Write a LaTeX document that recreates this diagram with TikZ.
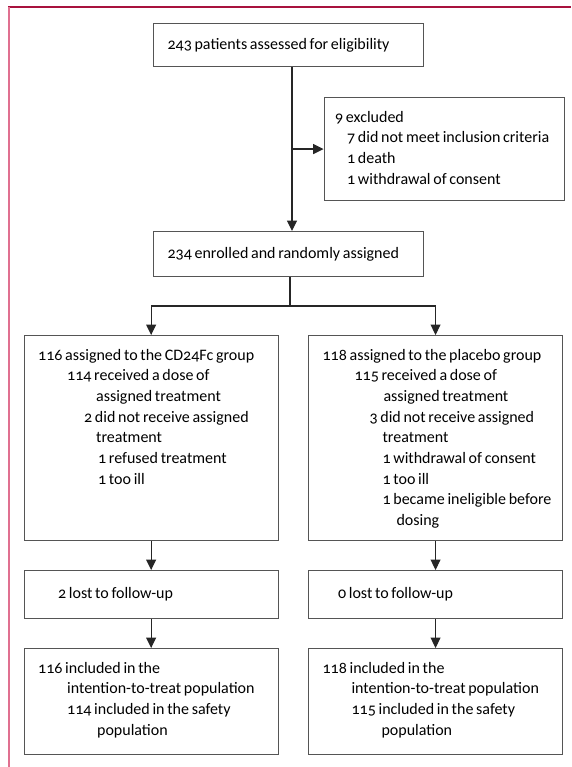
\documentclass[tikz,border=0pt]{standalone}
\usepackage{fontspec}
\setmainfont{Carlito}[Numbers=OldStyle, WordSpace=0.75]
\usetikzlibrary{arrows.meta}

\definecolor{framered}{HTML}{A8123E}
\definecolor{framepink}{HTML}{E07090}
\definecolor{boxgray}{HTML}{555555}

% text block of a box: width, height, lines
\newcommand{\topfill}[3]{\parbox[c][#2][t]{#1}{\vspace*{10pt}#3}}
\newcommand{\midfill}[3]{\parbox[c][#2][c]{#1}{#3}}
\newcommand{\entry}[2]{\hspace*{#1}\strut#2\par}

\begin{document}
\begin{tikzpicture}[x=1pt,y=-1pt]
        \tikzset{flowbox/.style={draw=boxgray, line width=1.1pt, anchor=north west,
            inner sep=0pt, font=\fontsize{16}{20.7}\selectfont},
          arr/.style={-{Triangle[length=10.5pt,width=10pt]}, line width=1.1pt, black!85}}

        \useasboundingbox (0,0) rectangle (571,767);

        \draw[framered, line width=1.6pt] (8,7) -- (571,7);
        \draw[framepink, line width=2pt] (9,7) -- (9,767);

        \node[flowbox] (assess) at (153,23) {\midfill{270pt}{43pt}{%
            \entry{14pt}{243 patients assessed for eligibility}}};
        \node[flowbox] (excl) at (323.6,97) {\topfill{240pt}{103pt}{%
            \entry{11pt}{9 excluded}
            \entry{23pt}{7 did not meet inclusion criteria}
            \entry{23pt}{1 death}
            \entry{23pt}{1 withdrawal of consent}}};
        \node[flowbox] (enrol) at (153,231) {\midfill{270pt}{45pt}{%
            \entry{14pt}{234 enrolled and randomly assigned}}};

        \node[flowbox] (cd24) at (23.6,335) {\topfill{254pt}{205pt}{%
            \entry{14pt}{116 assigned to the CD24Fc group}
            \entry{43pt}{114 received a dose of}
            \entry{72pt}{assigned treatment}
            \entry{60pt}{2 did not receive assigned}
            \entry{72pt}{treatment}
            \entry{74pt}{1 refused treatment}
            \entry{74pt}{1 too ill}}};
        \node[flowbox] (placebo) at (308,335) {\topfill{254pt}{205pt}{%
            \entry{14pt}{118 assigned to the placebo group}
            \entry{46pt}{115 received a dose of}
            \entry{75pt}{assigned treatment}
            \entry{61pt}{3 did not receive assigned}
            \entry{74pt}{treatment}
            \entry{74pt}{1 withdrawal of consent}
            \entry{74pt}{1 too ill}
            \entry{74pt}{1 became ineligible before}
            \entry{88pt}{dosing}}};

        \node[flowbox] (lostcd) at (23.6,570) {\midfill{254pt}{48pt}{%
            \entry{34pt}{2 lost to follow-up}}};
        \node[flowbox] (lostpl) at (308,570) {\midfill{254pt}{48pt}{%
            \entry{29.5pt}{0 lost to follow-up}}};

        \node[flowbox] (ittcd) at (23.6,648) {\topfill{254pt}{106pt}{%
            \entry{14pt}{116 included in the}
            \entry{43pt}{intention-to-treat population}
            \entry{43pt}{114 included in the safety}
            \entry{73pt}{population}}};
        \node[flowbox] (ittpl) at (308,648) {\topfill{254pt}{106pt}{%
            \entry{14pt}{118 included in the}
            \entry{43pt}{intention-to-treat population}
            \entry{43pt}{115 included in the safety}
            \entry{73pt}{population}}};

        \coordinate (stem) at (292,0);
        \coordinate (split) at (290,306);

        \draw[arr] (assess.south -| stem) -- (enrol.north -| stem);
        \draw[arr] (stem |- excl.west) -- (excl.west);
        \draw[line width=1.1pt, black!85] (enrol.south -| split) -- (split);
        \draw[arr] (split) -| (cd24.north);
        \draw[arr] (split) -| (placebo.north);
        \draw[arr] (cd24.south) -- (lostcd.north);
        \draw[arr] (placebo.south) -- (lostpl.north);
        \draw[arr] (lostcd.south) -- (ittcd.north);
        \draw[arr] (lostpl.south) -- (ittpl.north);
      \end{tikzpicture}
\end{document}
